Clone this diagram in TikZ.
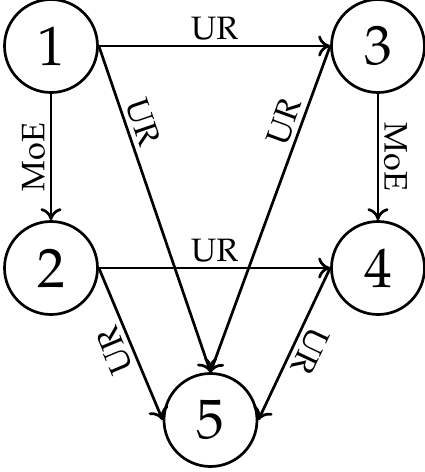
\documentclass[tikz,border=0pt]{standalone}
\usepackage[T1]{fontenc}
\usepackage{mathpazo}
\usetikzlibrary{arrows.meta}

\begin{document}
\begin{tikzpicture}
[x=0.3333pt, y=-0.3333pt,
vertex/.style={circle, draw=black, line width=0.9pt, minimum size=31pt, inner sep=0pt, font=\fontsize{18.5}{22}\selectfont},
arrow/.style={line width=0.9pt, -{To[length=4pt,width=7pt]}},
back/.style={line width=0.9pt, {To[length=4pt,width=7pt]}-},
lab/.style={sloped, above, inner sep=1.5pt, font=\fontsize{10.8}{13}\selectfont},
flat/.style={lab, allow upside down},]
\useasboundingbox (0,0) rectangle (425,472);

\node (n1) [vertex] at (51,46) {1};
\node (n3) [vertex] at (378,46) {3};
\node (n2) [vertex] at (51,268) {2};
\node (n4) [vertex] at (378,268) {4};
\node (n5) [vertex] at (210.5,420) {5};

\draw [arrow] (n1.east) -- node[lab]{UR} (n3.west);
\draw [arrow] (n2.east) -- node[lab]{UR} (n4.west);

\draw [back] (n2.north) -- node[flat]{MoE} (n1.south);
\draw [arrow] (n3.south) -- node[flat]{MoE} (n4.north);

\draw [arrow] (n1.east) -- node[lab, near start]{UR} (n5.north);
\draw [arrow] (n3.west) -- node[lab, near start]{UR} (n5.north);

\draw [back] (n5.west) -- node[flat]{UR} (n2.east);
\draw [arrow] (n4.west) -- node[flat]{UR} (n5.east);
\end{tikzpicture}
\end{document}
